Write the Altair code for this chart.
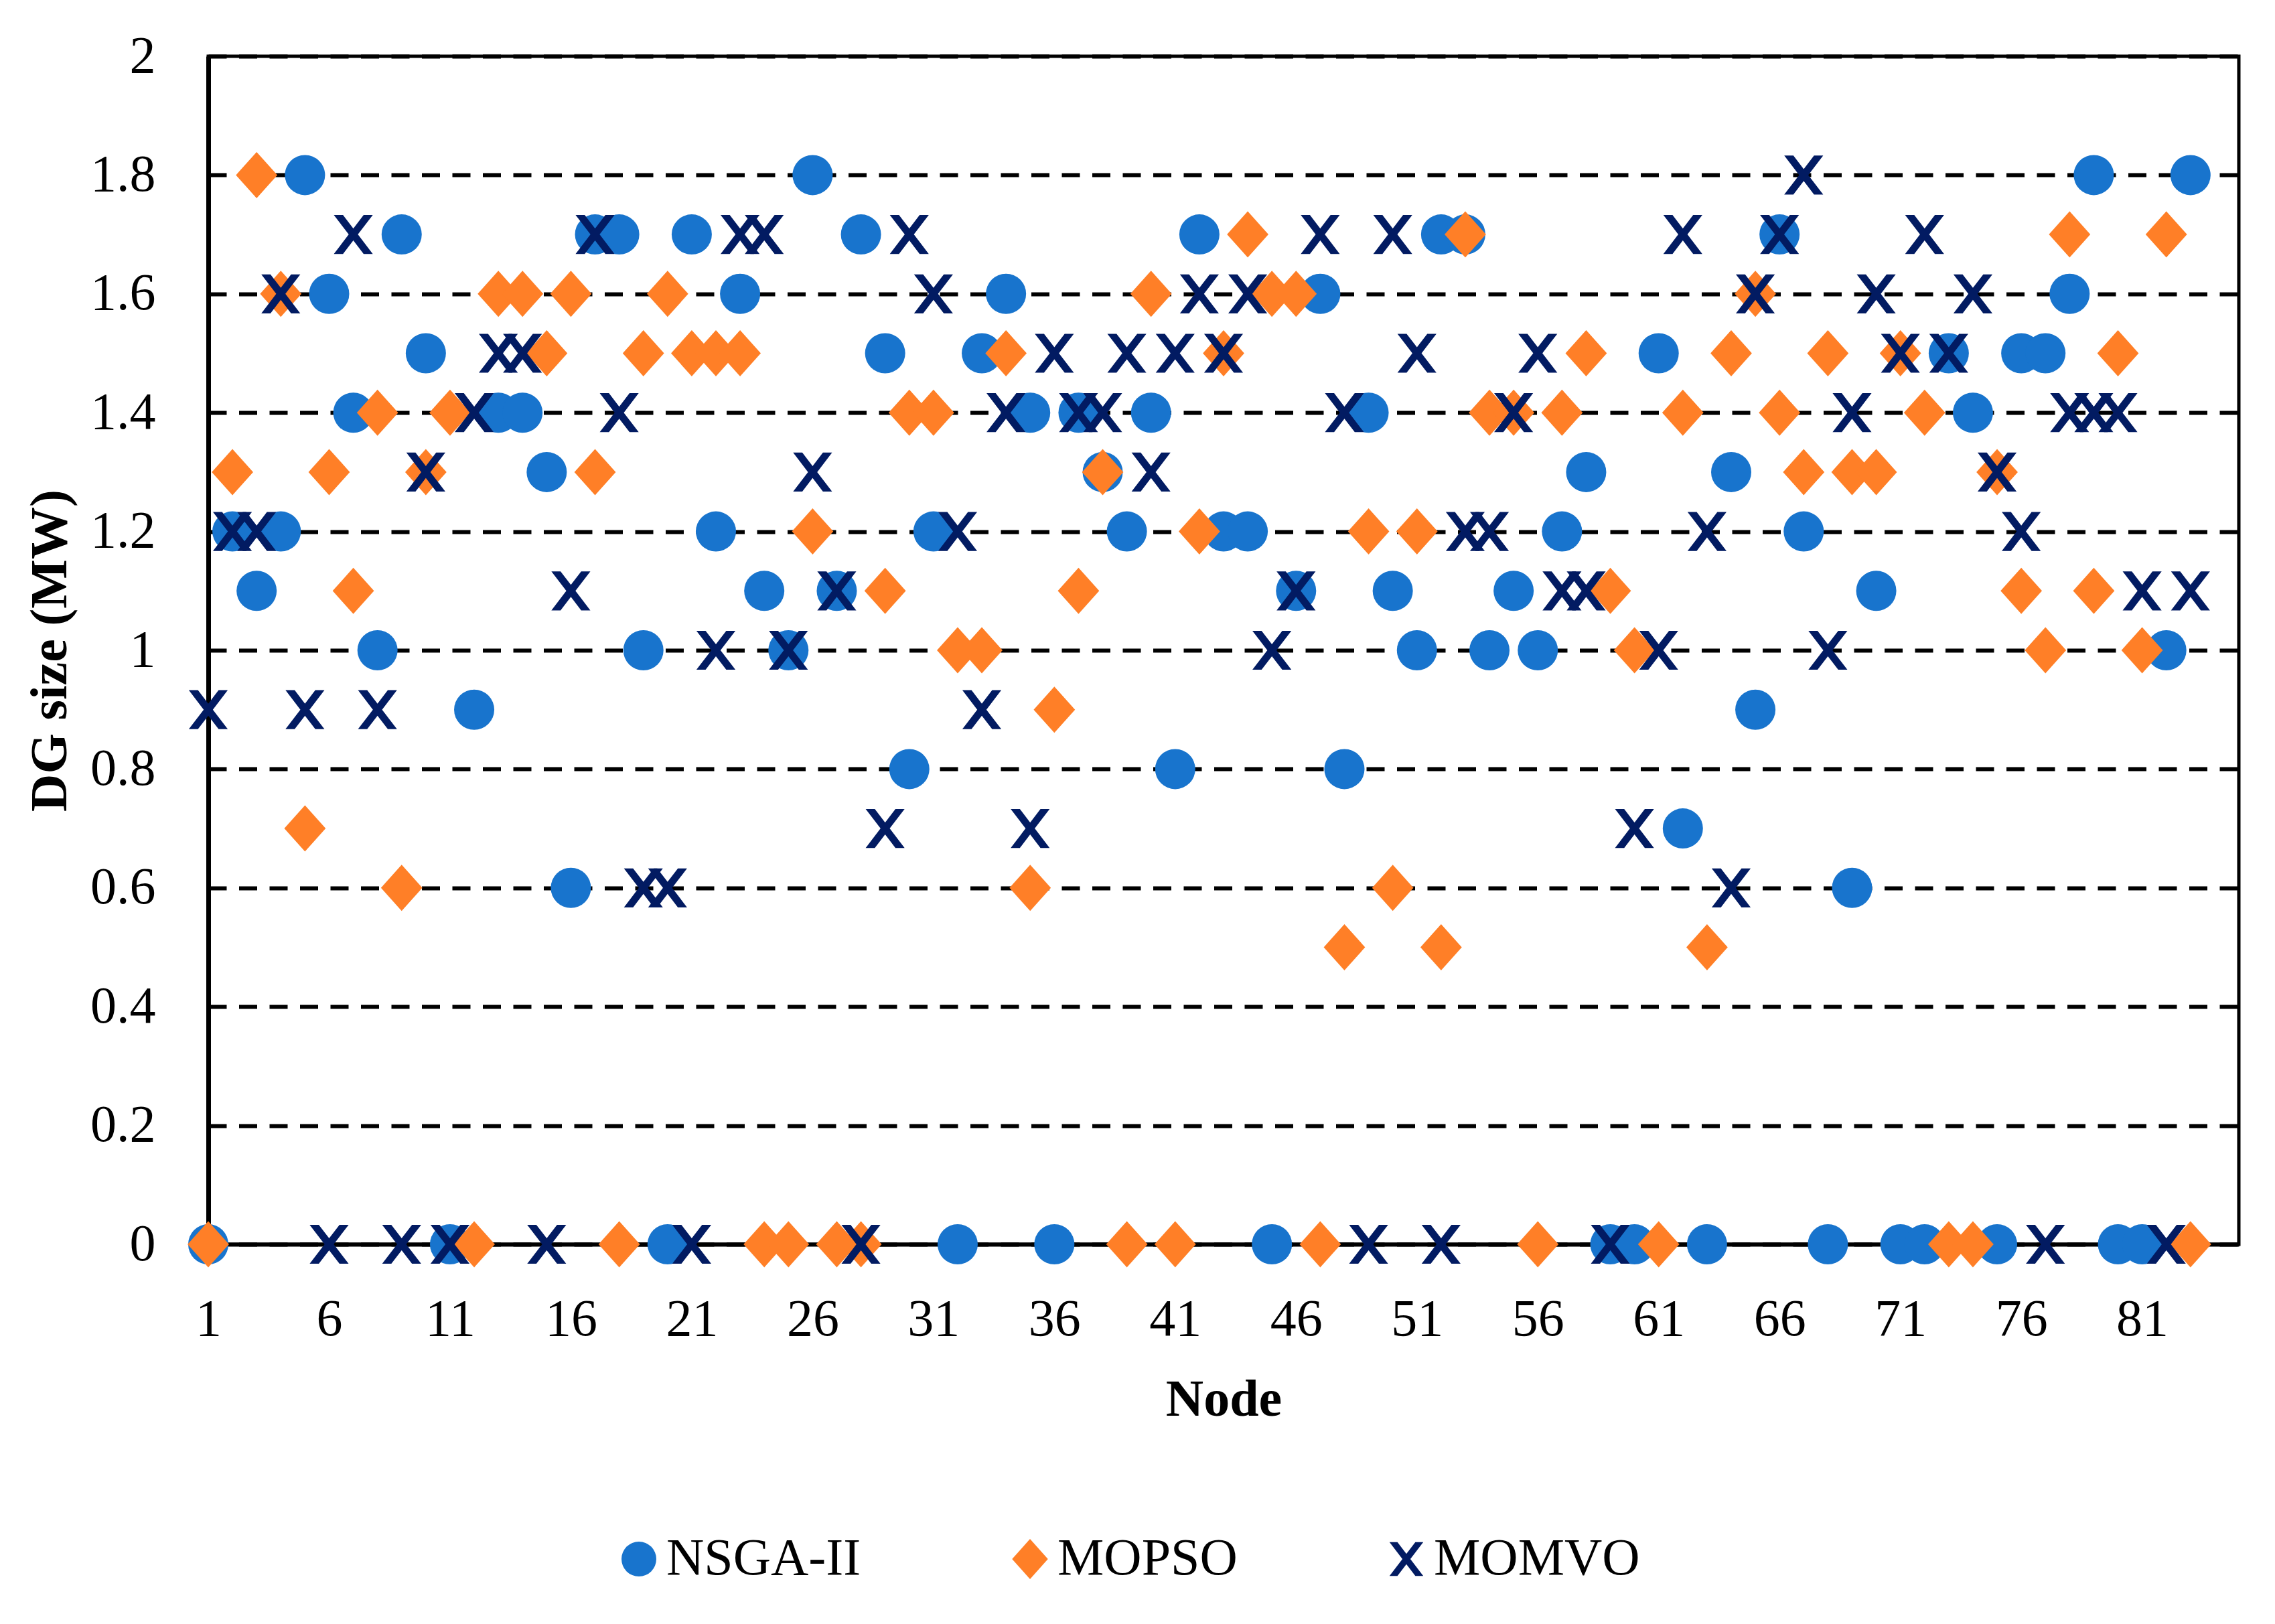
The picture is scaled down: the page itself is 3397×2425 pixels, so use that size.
import altair as alt
import pandas as pd

nodes = list(range(1, 84))

nsga2 = [0, 1.2, 1.1, 1.2, 1.8, 1.6, 1.4, 1.0, 1.7, 1.5,
         0, 0.9, 1.4, 1.4, 1.3, 0.6, 1.7, 1.7, 1.0, 0,
         1.7, 1.2, 1.6, 1.1, 1.0, 1.8, 1.1, 1.7, 1.5, 0.8,
         1.2, 0, 1.5, 1.6, 1.4, 0, 1.4, 1.3, 1.2, 1.4,
         0.8, 1.7, 1.2, 1.2, 0, 1.1, 1.6, 0.8, 1.4, 1.1,
         1.0, 1.7, 1.7, 1.0, 1.1, 1.0, 1.2, 1.3, 0, 0,
         1.5, 0.7, 0, 1.3, 0.9, 1.7, 1.2, 0, 0.6, 1.1,
         0, 0, 1.5, 1.4, 0, 1.5, 1.5, 1.6, 1.8, 0,
         0, 1.0, 1.8]

mopso = [0, 1.3, 1.8, 1.6, 0.7, 1.3, 1.1, 1.4, 0.6, 1.3,
         1.4, 0, 1.6, 1.6, 1.5, 1.6, 1.3, 0, 1.5, 1.6,
         1.5, 1.5, 1.5, 0, 0, 1.2, 0, 0, 1.1, 1.4,
         1.4, 1.0, 1.0, 1.5, 0.6, 0.9, 1.1, 1.3, 0, 1.6,
         0, 1.2, 1.5, 1.7, 1.6, 1.6, 0, 0.5, 1.2, 0.6,
         1.2, 0.5, 1.7, 1.4, 1.4, 0, 1.4, 1.5, 1.1, 1.0,
         0, 1.4, 0.5, 1.5, 1.6, 1.4, 1.3, 1.5, 1.3, 1.3,
         1.5, 1.4, 0, 0, 1.3, 1.1, 1.0, 1.7, 1.1, 1.5,
         1.0, 1.7, 0]

momvo = [0.9, 1.2, 1.2, 1.6, 0.9, 0, 1.7, 0.9, 0, 1.3,
         0, 1.4, 1.5, 1.5, 0, 1.1, 1.7, 1.4, 0.6, 0.6,
         0, 1.0, 1.7, 1.7, 1.0, 1.3, 1.1, 0, 0.7, 1.7,
         1.6, 1.2, 0.9, 1.4, 0.7, 1.5, 1.4, 1.4, 1.5, 1.3,
         1.5, 1.6, 1.5, 1.6, 1.0, 1.1, 1.7, 1.4, 0, 1.7,
         1.5, 0, 1.2, 1.2, 1.4, 1.5, 1.1, 1.1, 0, 0.7,
         1.0, 1.7, 1.2, 0.6, 1.6, 1.7, 1.8, 1.0, 1.4, 1.6,
         1.5, 1.7, 1.5, 1.6, 1.3, 1.2, 0, 1.4, 1.4, 1.4,
         1.1, 0, 1.1]

methods = ["NSGA-II", "MOPSO", "MOMVO"]
colors = ["#1874CD", "#FF7F27", "#021B62"]
x_ticks = [1, 6, 11, 16, 21, 26, 31, 36, 41, 46, 51, 56, 61, 66, 71, 76, 81]
y_ticks = [0, 0.2, 0.4, 0.6, 0.8, 1.0, 1.2, 1.4, 1.6, 1.8, 2.0]

DIAMOND = "M0,-1.15L1.03,0L0,1.15L-1.03,0Z"
XSHAPE = ("M-0.97,-0.97L-0.514,-0.97L0,-0.298L0.514,-0.97L0.97,-0.97L0.228,0"
          "L0.97,0.97L0.514,0.97L0,0.298L-0.514,0.97L-0.97,0.97L-0.228,0Z")
shapes = ["circle", DIAMOND, XSHAPE]

rows = []
for name, vals in zip(methods, [nsga2, mopso, momvo]):
    for n, v in zip(nodes, vals):
        rows.append({"node": n, "value": v, "method": name})
df = pd.DataFrame(rows)

FONT = "Liberation Serif"
W, H = 3032, 1774

legend = alt.Legend(
    orient="none", legendX=604, legendY=2205, direction="horizontal",
    title=None, labelFontSize=78, labelFont=FONT, labelColor="black",
    symbolSize=2704, labelOffset=2, columnPadding=213, padding=0,
    symbolStrokeWidth=0, labelLimit=1000, symbolOpacity=1,
)

chart = alt.Chart(df).mark_point(
    filled=True, size=3600, opacity=1, strokeWidth=0
).encode(
    x=alt.X("node:Q",
            scale=alt.Scale(domain=[1, 85], nice=False, zero=False),
            axis=alt.Axis(values=x_ticks, title="Node", grid=False, ticks=False,
                          tickSize=0, labelPadding=73, labelFlush=False,
                          labelOverlap=False, labelFontSize=78, labelFont=FONT,
                          labelColor="black", titleFontSize=78, titleFont=FONT,
                          titleFontWeight="bold", titleColor="black",
                          titleX=W / 2, titleY=255, titleBaseline="alphabetic",
                          titleAnchor="middle", titleAlign="center",
                          domainColor="black", domainWidth=6)),
    y=alt.Y("value:Q",
            scale=alt.Scale(domain=[0, 2], nice=False, zero=True),
            axis=alt.Axis(values=y_ticks, format="~g", title="DG size (MW)",
                          grid=True, gridColor="black", gridWidth=6,
                          gridDash=[27, 18.5], gridOpacity=1,
                          ticks=False, tickSize=0, labelPadding=79,
                          labelOverlap=False, labelFlush=False,
                          labelFontSize=78, labelFont=FONT, labelColor="black",
                          titleFontSize=78, titleFont=FONT, titleFontWeight="bold",
                          titleColor="black", titleX=-236, titleY=H / 2,
                          titleAngle=270, titleBaseline="middle",
                          titleAlign="center",
                          domainColor="black", domainWidth=7)),
    color=alt.Color("method:N", scale=alt.Scale(domain=methods, range=colors),
                    sort=methods, legend=legend),
    shape=alt.Shape("method:N", scale=alt.Scale(domain=methods, range=shapes),
                    sort=methods, legend=legend),
    order=alt.Order("order_idx:Q"),
).transform_calculate(
    order_idx="indexof(['NSGA-II','MOPSO','MOMVO'], datum.method) * 1000 + datum.node"
).properties(
    width=W, height=H,
    autosize=alt.AutoSizeParams(type="none"),
    padding={"left": 303, "top": 76, "right": 40, "bottom": 540},
    background="white",
).configure_view(
    stroke="black", strokeWidth=5
)

chart.save("out.html", embed_options={"renderer": "svg", "actions": False})
